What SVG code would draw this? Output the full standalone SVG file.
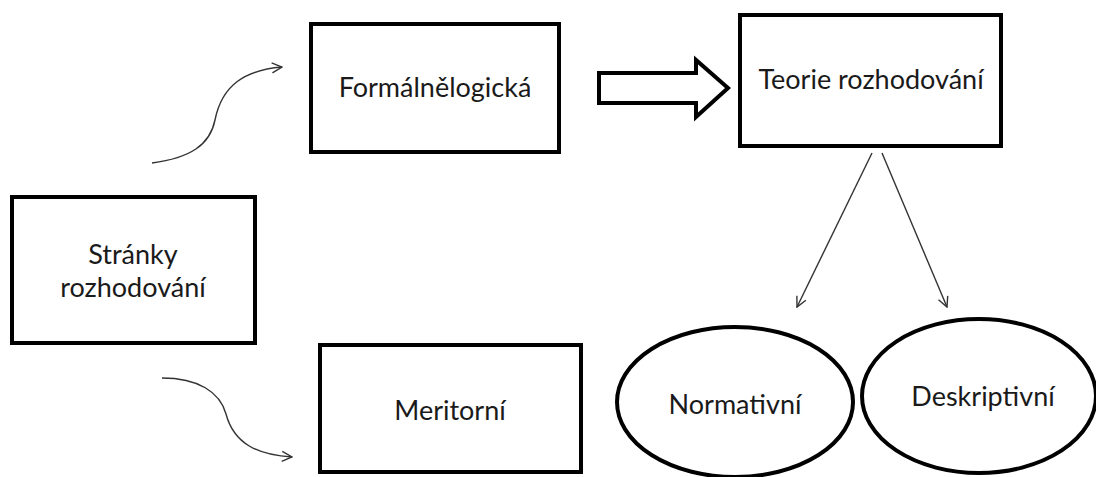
<svg xmlns="http://www.w3.org/2000/svg" width="1096" height="477" viewBox="0 0 1096 477">
  <style>
    .box { fill: #fff; stroke: #000; stroke-width: 4; }
    .oval { fill: #fff; stroke: #000; stroke-width: 4; }
    .label { font-family: Lato, "Liberation Sans", sans-serif; font-size: 27px; fill: #1a1a1a; text-anchor: middle; }
    .thin { fill: none; stroke: #333; stroke-width: 1.4; }
    .block { fill: #fff; stroke: #000; stroke-width: 4; stroke-linejoin: miter; }
  </style>
  <defs>
    <marker id="open" viewBox="0 0 12 12" refX="11" refY="6" markerWidth="12" markerHeight="12" markerUnits="userSpaceOnUse" orient="auto">
      <path d="M1,1 L11,6 L1,11" fill="none" stroke="#333" stroke-width="1.4"/>
    </marker>
  </defs>
  <rect width="1096" height="477" fill="#fff"/>

  <g id="connectors">
    <path class="thin" d="M152,163 C190,158 210,145 215,120 C222,85 245,70 282,67" marker-end="url(#open)"/>
    <path class="thin" d="M162,378 C198,378 220,392 226,414 C234,444 258,455 292,457" marker-end="url(#open)"/>
    <polygon class="block" points="599,73 696,73 696,60 728,88 696,117 696,103 599,103"/>
    <path class="thin" d="M872,153 L797,307" marker-end="url(#open)"/>
    <path class="thin" d="M882,153 L947,307" marker-end="url(#open)"/>
  </g>

  <g id="stranky">
    <rect class="box" x="12" y="197" width="243" height="146"/>
    <text class="label" x="133" y="264">Stránky</text>
    <text class="label" x="133" y="297">rozhodování</text>
  </g>

  <g id="formalnelogicka">
    <rect class="box" x="311" y="24" width="248" height="128"/>
    <text class="label" x="435" y="97">Formálnělogická</text>
  </g>

  <g id="teorie">
    <rect class="box" x="740" y="15" width="261" height="131"/>
    <text class="label" x="871" y="89">Teorie rozhodování</text>
  </g>

  <g id="meritorni">
    <rect class="box" x="320" y="345" width="261" height="127"/>
    <text class="label" x="450" y="420">Meritorní</text>
  </g>

  <g id="normativni">
    <ellipse class="oval" cx="735" cy="402" rx="118" ry="75"/>
    <text class="label" x="735" y="414">Normativní</text>
  </g>

  <g id="deskriptivni">
    <ellipse class="oval" cx="979" cy="396" rx="117" ry="77"/>
    <text class="label" x="983" y="406">Deskriptivní</text>
  </g>
</svg>
